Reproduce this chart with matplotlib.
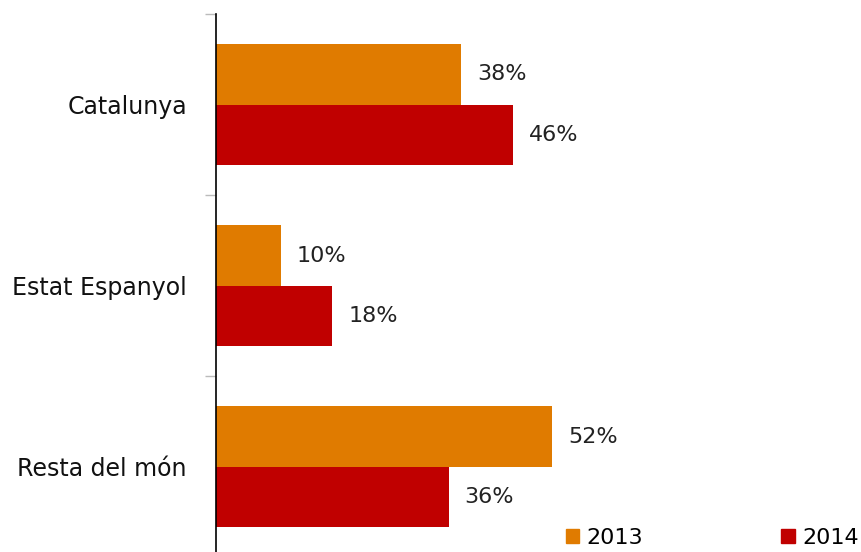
import numpy as np
import matplotlib
matplotlib.use("Agg")
import matplotlib.pyplot as plt
from matplotlib.patches import Patch

categories = ["Catalunya", "Estat Espanyol", "Resta del món"]
years = ["2013", "2014"]
vals_2013 = [38, 10, 52]
vals_2014 = [46, 18, 36]

col_2013 = "#E07B00"
col_2014 = "#C00000"

plt.rcParams["font.family"] = ["DejaVu Sans"]

fig = plt.figure(figsize=(8.62, 5.52), dpi=100)
ax = fig.add_axes([216 / 862, 0.0, 1 - 216 / 862, 538 / 552])

y = np.arange(len(categories))
h = 1 / 3
b1 = ax.barh(y - h / 2, vals_2013, height=h, color=col_2013, label=years[0])
b2 = ax.barh(y + h / 2, vals_2014, height=h, color=col_2014, label=years[1])

for bars, vals in ((b1, vals_2013), (b2, vals_2014)):
    for bar, v in zip(bars, vals):
        ax.annotate(f"{v}%", (v, bar.get_y() + bar.get_height() / 2),
                    xytext=(16, 0), textcoords="offset pixels",
                    va="center", ha="left", fontsize=16, color="#222222")

ax.set_xlim(0, 100)
ax.set_ylim(2.47, -0.5)
ax.set_yticks(y)
ax.set_yticklabels(categories, fontsize=17, color="#111111")
ax.set_yticks([-0.5, 0.5, 1.5], minor=True)
ax.tick_params(axis="y", which="major", length=0, pad=21)
ax.tick_params(axis="y", which="minor", length=8, color="#bbbbbb", width=1)
ax.set_xticks([])
for s in ("top", "right", "bottom"):
    ax.spines[s].set_visible(False)
ax.spines["left"].set_color("black")
ax.spines["left"].set_linewidth(1.2)

handles = [Patch(color=col_2013), Patch(color=col_2014)]
fig.legend(handles, years, loc="lower right", bbox_to_anchor=(859 / 862, 4 / 552), ncol=2,
           frameon=False, fontsize=16, handlelength=0.6, handleheight=0.6,
           handletextpad=0.35, columnspacing=6.2, borderpad=0, borderaxespad=0)

fig.savefig("out.png", dpi=100)
